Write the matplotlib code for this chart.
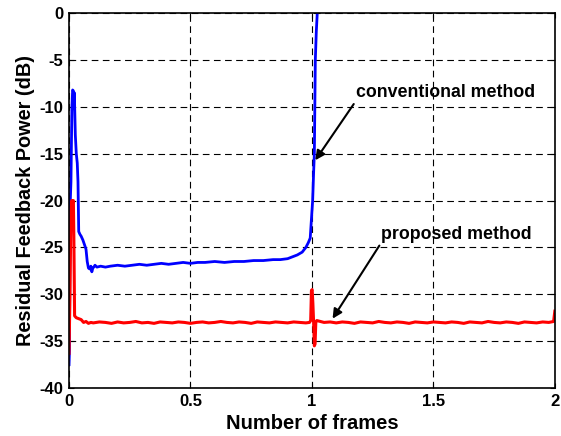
import matplotlib
matplotlib.use("Agg")
import matplotlib.pyplot as plt

# conventional method (blue)
conv_x = [0.000, 0.002, 0.004, 0.008, 0.012, 0.015, 0.018, 0.020, 0.022, 0.026,
          0.030, 0.034, 0.037, 0.040, 0.045, 0.050, 0.057, 0.065, 0.070, 0.075,
          0.080, 0.085, 0.090, 0.094, 0.098, 0.102, 0.107, 0.115, 0.130, 0.150,
          0.170, 0.200, 0.230, 0.260, 0.290, 0.320, 0.350, 0.380, 0.410, 0.440,
          0.470, 0.500, 0.530, 0.560, 0.600, 0.640, 0.680, 0.720, 0.760, 0.800,
          0.840, 0.870, 0.900, 0.920, 0.940, 0.960, 0.975, 0.985, 0.993, 0.998,
          1.003, 1.007, 1.010, 1.012, 1.014, 1.018, 1.023]
conv_y = [-37.5, -36.0, -21.0, -18.0, -10.0, -8.2, -8.3, -10.2, -8.5, -13.0,
          -15.0, -16.0, -18.0, -23.3, -23.6, -23.8, -24.2, -24.8, -25.2, -26.5,
          -27.2, -27.3, -27.0, -27.6, -27.2, -27.1, -26.9, -27.1, -27.0, -27.1,
          -27.0, -26.9, -27.0, -26.9, -26.8, -26.9, -26.8, -26.7, -26.8, -26.7,
          -26.6, -26.7, -26.6, -26.6, -26.5, -26.6, -26.5, -26.5, -26.4, -26.4,
          -26.3, -26.3, -26.2, -26.0, -25.8, -25.5, -25.0, -24.5, -24.0, -22.0,
          -20.0, -17.0, -15.0, -10.0, -5.0, -2.0, 0.5]

# proposed method (red)
prop_x = [0.000, 0.004, 0.008, 0.011, 0.015, 0.018, 0.020, 0.023, 0.030, 0.040,
          0.050, 0.060, 0.070, 0.080, 0.090,
          0.100, 0.125, 0.150, 0.175, 0.200, 0.225, 0.250, 0.275, 0.300, 0.325,
          0.350, 0.375, 0.400, 0.425, 0.450, 0.475, 0.500, 0.525, 0.550, 0.575,
          0.600, 0.625, 0.650, 0.675, 0.700, 0.725, 0.750, 0.775, 0.800, 0.825,
          0.850, 0.875, 0.900, 0.925, 0.950, 0.975,
          0.990, 0.995, 0.998, 1.001, 1.004, 1.007, 1.010, 1.013, 1.016, 1.020,
          1.050, 1.075, 1.100, 1.125, 1.150, 1.175, 1.200, 1.225, 1.250, 1.275,
          1.300, 1.325, 1.350, 1.375, 1.400, 1.425, 1.450, 1.475, 1.500, 1.525,
          1.550, 1.575, 1.600, 1.625, 1.650, 1.675, 1.700, 1.725, 1.750, 1.775,
          1.800, 1.825, 1.850, 1.875, 1.900, 1.925, 1.950, 1.975, 1.995, 2.000]
prop_y = [-36.3, -30.0, -21.0, -20.0, -20.2, -20.0, -24.0, -32.3, -32.5, -32.6,
          -32.7, -33.0, -32.9, -33.1, -33.0,
          -33.05, -32.95, -33.0, -33.1, -32.95, -33.05, -33.0, -32.9, -33.05, -33.0,
          -33.1, -32.95, -33.0, -33.05, -32.95, -33.0, -33.1, -33.0, -32.95, -33.05,
          -33.0, -32.9, -33.0, -33.05, -32.95, -33.0, -33.1, -32.95, -33.0, -33.05,
          -32.95, -33.0, -33.05, -32.95, -33.0, -33.05,
          -33.0, -32.8, -29.6, -29.5, -31.0, -33.0, -35.5, -35.3, -33.0, -32.8,
          -33.0, -32.95, -33.05, -32.95, -33.0, -33.1, -32.95, -33.0, -33.05, -32.9,
          -33.0, -33.05, -32.95, -33.0, -33.1, -32.95, -33.0, -33.05, -32.95, -33.0,
          -33.05, -32.95, -33.0, -33.1, -32.95, -33.0, -33.05, -32.9, -33.0, -33.05,
          -32.95, -33.0, -33.1, -32.95, -33.0, -33.05, -32.95, -33.0, -32.9, -31.8]

x_ticks = [0, 0.5, 1, 1.5, 2]
x_tick_labels = ["0", "0.5", "1", "1.5", "2"]
y_ticks = [-40, -35, -30, -25, -20, -15, -10, -5, 0]

plt.rcParams["font.family"] = ["Liberation Sans", "DejaVu Sans"]
plt.rcParams["font.weight"] = "bold"
plt.rcParams["axes.unicode_minus"] = False

fig = plt.figure(figsize=(5.61, 4.36), dpi=100)
ax = fig.add_axes([0.123, 0.110, 0.866, 0.860])

ax.plot(conv_x, conv_y, color="#0000ff", lw=2.0)
ax.plot(prop_x, prop_y, color="#ff0000", lw=2.2)

ax.set_xlim(0, 2)
ax.set_ylim(-40, 0)
ax.set_xticks(x_ticks)
ax.set_xticklabels(x_tick_labels)
ax.set_yticks(y_ticks)
ax.grid(True, color="black", linestyle=(0, (6, 4)), linewidth=0.8)
ax.tick_params(direction="in", top=True, right=True, labelsize=12, pad=4)
for s in ax.spines.values():
    s.set_linewidth(1.2)

ax.set_xlabel("Number of frames", fontsize=14.5, fontweight="bold", labelpad=4)
ax.set_ylabel("Residual Feedback Power (dB)", fontsize=14.3, fontweight="bold", labelpad=3)

ax.annotate("conventional method", xy=(1.014, -15.7), xytext=(1.18, -8.5),
            fontsize=12.8, fontweight="bold", ha="left", va="center",
            arrowprops=dict(arrowstyle="-|>", color="black", lw=1.5,
                            shrinkA=0, shrinkB=0, mutation_scale=14,
                            relpos=(0.0, 0.0)))
ax.annotate("proposed method", xy=(1.085, -32.6), xytext=(1.285, -23.6),
            fontsize=12.8, fontweight="bold", ha="left", va="center",
            arrowprops=dict(arrowstyle="-|>", color="black", lw=1.5,
                            shrinkA=0, shrinkB=0, mutation_scale=14,
                            relpos=(0.0, 0.0)))

fig.savefig("out.png", dpi=100)
